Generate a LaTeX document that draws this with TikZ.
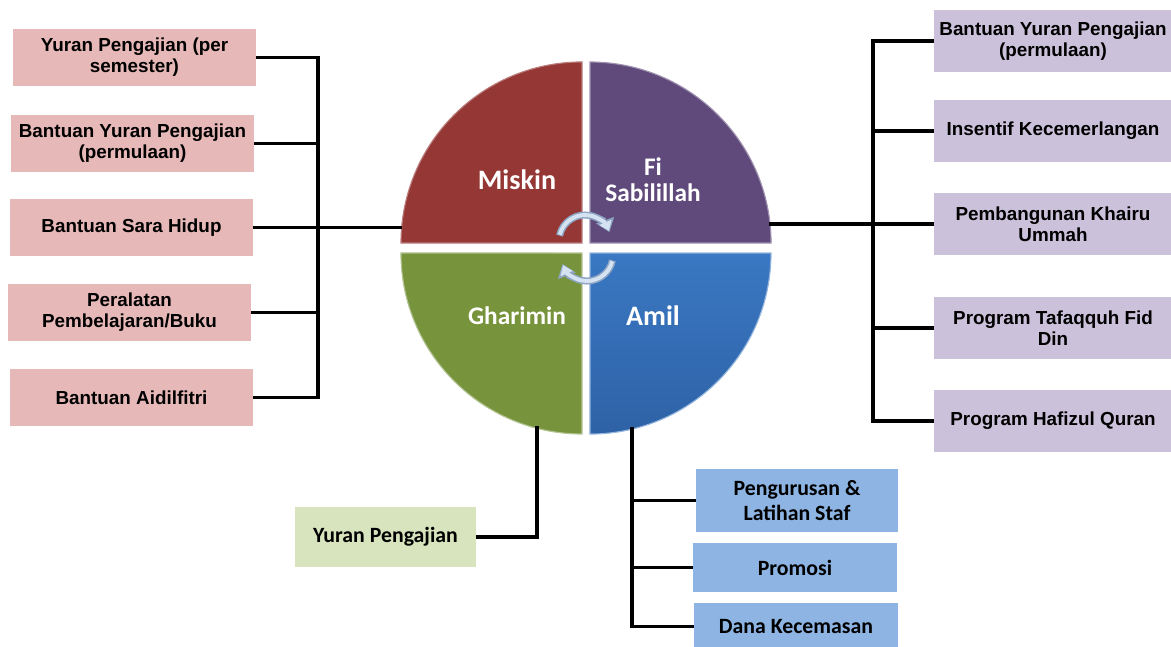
\documentclass[tikz,border=0pt]{standalone}
\usepackage{fontspec}
\setmainfont{Liberation Sans}
\newfontfamily\calibri{Carlito}
\usetikzlibrary{positioning, arrows.meta, calc}
\definecolor{miskin-red}{HTML}{953735}
\definecolor{fi-purple}{HTML}{604A7B}
\definecolor{gharimin-green}{HTML}{77933C}
\definecolor{amil-blue}{HTML}{3A78C3}
\definecolor{amil-dark}{HTML}{2E62A6}
\definecolor{box-pink}{HTML}{E6B9B8}
\definecolor{box-lilac}{HTML}{CCC1DA}
\definecolor{box-green}{HTML}{D7E4BD}
\definecolor{box-blue}{HTML}{8DB4E2}
\definecolor{cycle-blue}{HTML}{D5E2F1}
\definecolor{cycle-edge}{HTML}{8EA6C4}

\begin{document}
\begin{tikzpicture}[x=0.025cm, y=-0.025cm,
		box/.style={inner sep=1pt, align=center, font=\fontsize{13.4}{15}\selectfont\bfseries},
		pinkbox/.style={box, fill=box-pink, minimum width=6.075cm, minimum height=1.425cm},
		lilacbox/.style={box, fill=box-lilac, minimum width=5.95cm, minimum height=1.55cm},
		bluebox/.style={box, fill=box-blue, font=\calibri\fontsize{15.5}{18}\selectfont\bfseries},
		link/.style={line width=2.5pt},
		slice/.style={line width=0.8pt},
		cycout/.style={cycle-edge, line width=5pt, -{Triangle[length=9pt, width=13pt]}},
		cycin/.style={cycle-blue, line width=2.8pt, -{Triangle[length=6.5pt, width=9pt]}}]
	\useasboundingbox (0,0) rectangle (1171,646);
	
	% pie
	\fill[miskin-red, draw=miskin-red!65!white, slice] (582,243) -- ++(-181,0) arc[start angle=180, end angle=90, radius=4.525cm] -- cycle;
	\fill[fi-purple, draw=fi-purple!60!white, slice] (590,243) -- ++(0,-181) arc[start angle=90, end angle=0, radius=4.525cm] -- cycle;
	\fill[gharimin-green, draw=gharimin-green!55!white, slice] (582,253) -- ++(0,181) arc[start angle=270, end angle=180, radius=4.525cm] -- cycle;
	\shade[top color=amil-blue, bottom color=amil-dark, draw=amil-blue!55!white, slice] (590,253) -- ++(181,0) arc[start angle=0, end angle=-90, radius=4.525cm] -- cycle;
	
	\coordinate (c-top) at (585,241);
	\coordinate (c-bot) at (587,255);
	\draw[cycout] ([shift={(168:0.65cm)}]c-top) arc[start angle=168, end angle=20, radius=0.65cm];
	\draw[cycin] ([shift={(166:0.65cm)}]c-top) arc[start angle=166, end angle=23, radius=0.65cm];
	\draw[cycout] ([shift={(-12:0.65cm)}]c-bot) arc[start angle=-12, end angle=-160, radius=0.65cm];
	\draw[cycin] ([shift={(-14:0.65cm)}]c-bot) arc[start angle=-14, end angle=-157, radius=0.65cm];
	
	\node[white, font=\calibri\fontsize{20}{24}\selectfont\bfseries] (miskin) at (517,180) {Miskin};
	\node[white, align=center, font=\calibri\fontsize{18}{18.5}\selectfont\bfseries] (fi) at (653,180) {Fi\\Sabilillah};
	\node[white, font=\calibri\fontsize{18}{24}\selectfont\bfseries] (gharimin) at (517,316) {Gharimin};
	\node[white, font=\calibri\fontsize{20}{24}\selectfont\bfseries] (amil) at (653,316) {Amil};
	
	\coordinate (miskin-w) at (402,227.5);
	\coordinate (fi-e) at (769,224);
	\coordinate (gharimin-s) at (537,426);
	\coordinate (amil-s) at (632,427);
	
	% Miskin
	\node[pinkbox] (l1) at (134.5,57.5) {Yuran Pengajian (per\\semester)};
	\node[pinkbox] (l2) at (132.5,143.5) {Bantuan Yuran Pengajian\\(permulaan)};
	\node[pinkbox] (l3) at (131.5,227.5) {Bantuan Sara Hidup};
	\node[pinkbox] (l4) at (129.5,312.5) {Peralatan\\Pembelajaran/Buku};
	\node[pinkbox] (l5) at (131.5,397.5) {Bantuan Aidilfitri};
	\coordinate (lbus) at (318,227.5);
	\draw[link] (l1.east) -| (lbus) (l2.east) -| (lbus) (l4.east) -| (lbus) (l5.east) -| (lbus);
	\draw[link] (l3.east) -- (miskin-w);
	
	% Fi Sabilillah
	\node[lilacbox] (r1) at (1053,41) {Bantuan Yuran Pengajian\\(permulaan)};
	\node[lilacbox] (r2) at (1053,131) {Insentif Kecemerlangan};
	\node[lilacbox] (r3) at (1053,224) {Pembangunan Khairu\\Ummah};
	\node[lilacbox] (r4) at (1053,328) {Program Tafaqquh Fid\\Din};
	\node[lilacbox] (r5) at (1053,421) {Program Hafizul Quran};
	\coordinate (rbus) at (873,224);
	\draw[link] (r1.west) -| (rbus) (r2.west) -| (rbus) (r4.west) -| (rbus) (r5.west) -| (rbus);
	\draw[link] (r3.west) -- (fi-e);
	
	% Gharimin
	\node[box, fill=box-green, font=\calibri\fontsize{15.5}{18}\selectfont\bfseries, minimum width=4.525cm, minimum height=1.5cm] (g1) at (385.5,537) {Yuran Pengajian};
	\draw[link] (g1.east) -| (gharimin-s);
	
	% Amil
	\node[bluebox, minimum width=5.05cm, minimum height=1.575cm] (b1) at (797,500.5) {Pengurusan \&\\Latihan Staf};
	\node[bluebox, minimum width=5.1cm, minimum height=1.225cm] (b2) at (795,567.5) {Promosi};
	\node[bluebox, minimum width=5.1cm, minimum height=1.175cm] (b3) at (796,626.5) {Dana Kecemasan};
	\draw[link] (amil-s) |- (b3.west) (b1.west) -| (amil-s) (b2.west) -| (amil-s);
\end{tikzpicture}
\end{document}
